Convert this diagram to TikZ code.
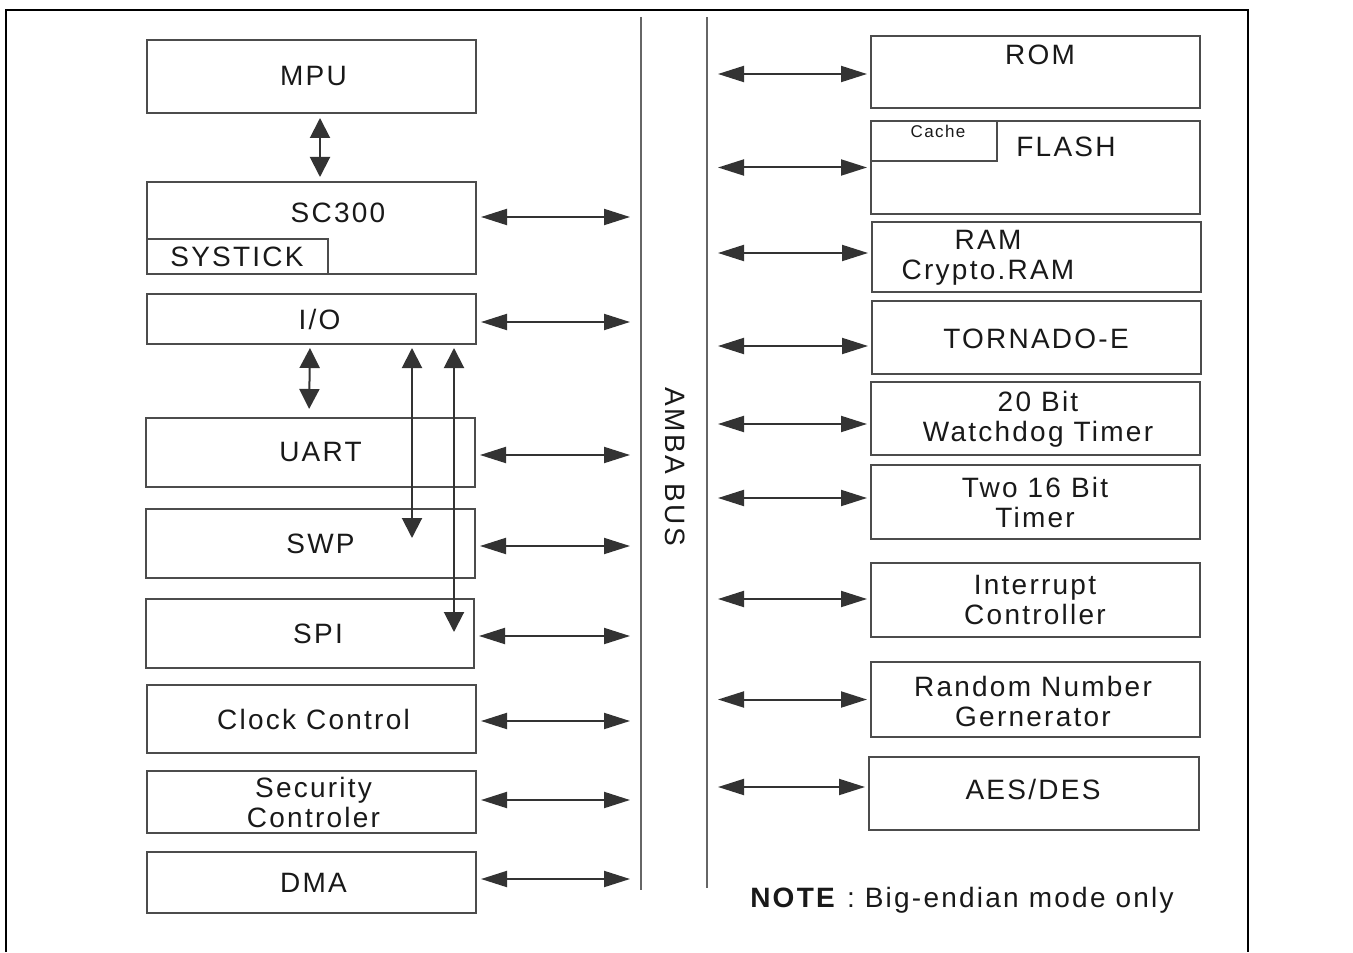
\documentclass[tikz,border=0pt]{standalone}
\usepackage{fontspec}
\setmainfont{Liberation Sans}[LetterSpace=8]
\usetikzlibrary{fit,arrows.meta}

\tikzset{
  blk/.style={draw=black!70, line width=1pt, inner sep=0pt},
  lbl/.style={inner sep=0pt, align=center, text=black!90, font=\fontsize{14}{15}\selectfont},
  hlink/.style={draw=black!80, line width=1pt,
    {Triangle[length=13pt,width=8pt]}-{Triangle[length=13pt,width=8pt]}},
  vlink/.style={draw=black!80, line width=1pt,
    {Triangle[length=10pt,width=10pt]}-{Triangle[length=10pt,width=10pt]}},
  busline/.style={draw=black!60, line width=1pt},
}

\begin{document}
\begin{tikzpicture}[x=0.5pt,y=-0.5pt]
\useasboundingbox (0,0) rectangle (1353,952);
% frame
\draw[line width=0.9pt] (6,952) -- (6,10) -- (1248,10) -- (1248,952);

% bus
\coordinate (busAtop) at (641,17);
\coordinate (busAbot) at (641,890);
\coordinate (busBtop) at (707,17);
\coordinate (busBbot) at (707,888);
\draw[busline] (busAtop) -- (busAbot);
\draw[busline] (busBtop) -- (busBbot);
\node[lbl, rotate=-90] (amba) at (675,467) {AMBA BUS};
\coordinate (lbus) at (630,0);
\coordinate (rbus) at (718,0);

% left column
\node[blk, fit={(147,40) (476,113)}] (mpu) {};
\node[blk, fit={(147,182) (476,274)}] (sc) {};
\node[blk, fit={(147,239) (328,274)}] (systick) {};
\node[blk, fit={(147,294) (476,344)}] (io) {};
\node[blk, fit={(146,418) (475,487)}] (uart) {};
\node[blk, fit={(146,509) (475,578)}] (swp) {};
\node[blk, fit={(146,599) (474,668)}] (spi) {};
\node[blk, fit={(147,685) (476,753)}] (clk) {};
\node[blk, fit={(147,771) (476,833)}] (sec) {};
\node[blk, fit={(147,852) (476,913)}] (dma) {};
\node[lbl] (mpulbl) at ([xshift=1pt]mpu) {MPU};
\node[lbl] (sclbl) at (338,213) {SC300};
\node[lbl] (systicklbl) at (237,257) {SYSTICK};
\node[lbl] (iolbl) at ([xshift=4pt]io) {I/O};
\node[lbl] (uartlbl) at ([xshift=5pt]uart) {UART};
\node[lbl] (swplbl) at ([xshift=5pt]swp) {SWP};
\node[lbl] (spilbl) at ([xshift=4pt]spi) {SPI};
\node[lbl] (clklbl) at ([xshift=1pt]clk) {Clock Control};
\node[lbl] (seclbl) at ([xshift=1pt]sec) {Security\\Controler};
\node[lbl] (dmalbl) at ([xshift=1pt]dma) {DMA};

% right column
\node[blk, fit={(871,36) (1200,108)}] (rom) {};
\node[blk, fit={(871,121) (1200,214)}] (flash) {};
\node[blk, fit={(871,121) (997,161)}] (cache) {};
\node[blk, fit={(872,222) (1201,292)}] (ram) {};
\node[blk, fit={(872,301) (1201,374)}] (tornado) {};
\node[blk, fit={(871,382) (1200,455)}] (wdt) {};
\node[blk, fit={(871,465) (1200,539)}] (tmr) {};
\node[blk, fit={(871,563) (1200,637)}] (intc) {};
\node[blk, fit={(871,662) (1200,737)}] (rng) {};
\node[blk, fit={(869,757) (1199,830)}] (aes) {};
\node[lbl] (romlbl) at (1040,55) {ROM};
\node[lbl, font=\fontsize{8.5}{9}\selectfont] (cachelbl) at (938,131) {Cache};
\node[lbl] (flashlbl) at (1066,147) {FLASH};
\node[lbl] (ramlbl) at (988,258) {RAM\\Crypto.RAM};
\node[lbl] (tornadolbl) at (1036,339) {TORNADO-E};
\node[lbl] (wdtlbl) at (1038,419) {20 Bit\\Watchdog Timer};
\node[lbl] (tmrlbl) at (1035,502) {Two 16 Bit\\Timer};
\node[lbl] (intclbl) at (1035,600) {Interrupt\\Controller};
\node[lbl] (rnglbl) at (1033,701) {Random Number\\Gernerator};
\node[lbl] (aeslbl) at (1033,789) {AES/DES};

% links inside the left column
\draw[vlink, shorten <=2pt, shorten >=2pt] ([xshift=4.25pt]mpu.south) -- ([xshift=4.25pt]sc.north);
\draw[vlink, shorten <=1.5pt, shorten >=4pt] ([xshift=-0.75pt]io.south) -- ([xshift=-0.75pt]uart.north);
\coordinate (swpend) at (412,538);
\coordinate (spiend) at (454,632);
\draw[vlink, shorten <=1.5pt] (io.south -| swpend) -- (swpend);
\draw[vlink, shorten <=1.5pt] (io.south -| spiend) -- (spiend);

% links to the bus
\foreach \n/\s in {sc/5.5, io/-1.5, uart/-1.25, swp/-1.25, spi/-1.25, clk/-1, sec/1, dma/1.75}
  \draw[hlink, shorten <=2pt] ([yshift=\s pt]\n.east) -- ([yshift=\s pt]\n.east -| lbus);
\foreach \n/\s in {rom/-1, flash/0, ram/2, tornado/-4.25, wdt/-2.75, tmr/2, intc/0.5, rng/0, aes/3.25}
  \draw[hlink, shorten >=1.5pt] ([yshift=\s pt]\n.west -| rbus) -- ([yshift=\s pt]\n.west);

% note
\node[lbl] (note) at (962,900) {\textbf{NOTE} : Big-endian mode only};
\end{tikzpicture}
\end{document}
